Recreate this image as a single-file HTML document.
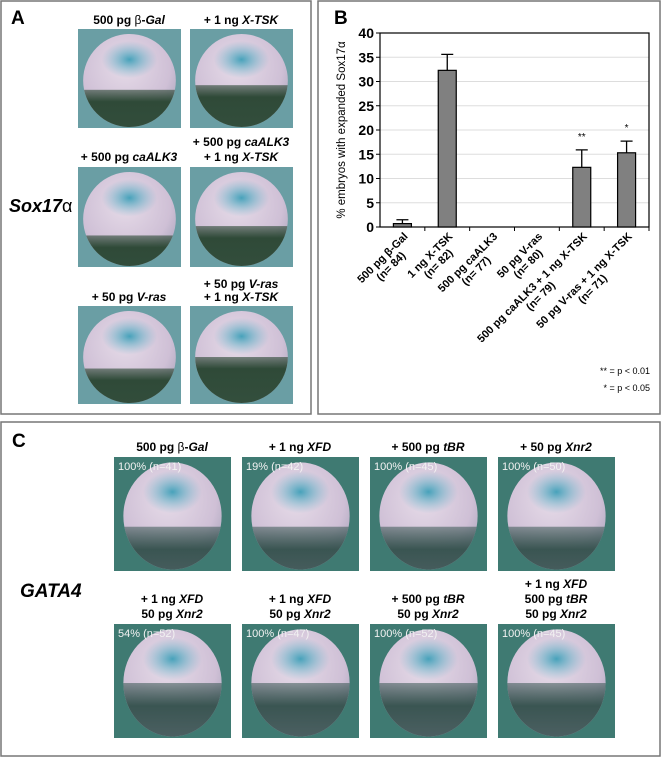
<!DOCTYPE html>
<html><head><meta charset="utf-8"><style>
body{margin:0;background:#fff;font-family:"Liberation Sans",sans-serif;}
svg text{font-family:"Liberation Sans","DejaVu Sans",sans-serif;}
</style></head><body>
<svg id="fig" width="661" height="758" viewBox="0 0 661 758" xmlns="http://www.w3.org/2000/svg">
<defs>
<radialGradient id="bodyA" cx="0.45" cy="0.35" r="0.7"><stop offset="0" stop-color="#e6dbe8"/><stop offset="0.7" stop-color="#cfc0d6"/><stop offset="1" stop-color="#a9a4bb"/></radialGradient>
<linearGradient id="yolk" x1="0" y1="0" x2="0" y2="1"><stop offset="0" stop-color="#2f4a38" stop-opacity="0.6"/><stop offset="0.12" stop-color="#2f4a38"/><stop offset="1" stop-color="#3a5544"/></linearGradient>
<radialGradient id="blue" cx="0.5" cy="0.5" r="0.5"><stop offset="0" stop-color="#3f9fb8" stop-opacity="0.95"/><stop offset="1" stop-color="#6fb6cc" stop-opacity="0"/></radialGradient>
<linearGradient id="yolkC" x1="0" y1="0" x2="0" y2="1"><stop offset="0" stop-color="#2f4f4a" stop-opacity="0.5"/><stop offset="0.2" stop-color="#3a5552"/><stop offset="1" stop-color="#6d7480"/></linearGradient>
</defs>
<rect x="1" y="1" width="310" height="413" fill="#fff" stroke="#777" stroke-width="1.5"/>
<rect x="318" y="1" width="342" height="413" fill="#fff" stroke="#777" stroke-width="1.5"/>
<rect x="1" y="422" width="659" height="334" fill="#fff" stroke="#777" stroke-width="1.5"/>
<text x="11" y="24" font-size="19" font-weight="bold">A</text>
<text x="334" y="24" font-size="19" font-weight="bold">B</text>
<text x="12" y="447" font-size="19" font-weight="bold">C</text>
<text x="9" y="212" font-size="18" font-weight="bold" font-style="italic">Sox17<tspan font-style="normal" font-weight="normal">α</tspan></text>
<text x="20" y="597" font-size="19" font-weight="bold" font-style="italic">GATA4</text>
<g id="photos"></g>
<g id="labels" font-size="12" font-weight="bold" text-anchor="middle"></g>
<g id="chart"></g>
<text x="650" y="374" font-size="9" text-anchor="end">** = p &lt; 0.01</text>
<text x="650" y="391" font-size="9" text-anchor="end">* = p &lt; 0.05</text>
</svg>
<script>
const categories=[["500 pg β-Gal","(n= 84)"],["1 ng X-TSK","(n= 82)"],["500 pg caALK3","(n= 77)"],["50 pg V-ras","(n= 80)"],["500 pg caALK3 + 1 ng X-TSK","(n= 79)"],["50 pg V-ras + 1 ng X-TSK","(n= 71)"]];
const values=[0.7,32.3,0,0,12.3,15.3];
const errTop=[1.5,35.6,0,0,15.9,17.7];
const stars=["","","","","**","*"];
const yTicks=[0,5,10,15,20,25,30,35,40];
const NS="http://www.w3.org/2000/svg";
function mk(tag,attrs,parent){const e=document.createElementNS(NS,tag);for(const k in attrs)e.setAttribute(k,attrs[k]);parent.appendChild(e);return e;}
const X0=380,X1=649,Y0=227,YT=33;
const bw=(X1-X0)/categories.length;
const y=v=>Y0-(v/40)*(Y0-YT);
const xc=i=>X0+(i+0.5)*bw;
const ch=document.getElementById('chart');
yTicks.forEach(t=>{
 if(t>0){const g=mk('line',{x1:X0,x2:X1,y1:y(t),y2:y(t),stroke:'#ddd','stroke-width':1},ch);
 
 }
 const tk=mk('line',{x1:X0-4,x2:X0,y1:y(t),y2:y(t),stroke:'#000'},ch);
 
 
 const tl=mk('text',{x:X0-6,y:y(t)+5,'font-size':14,'font-weight':'bold','text-anchor':'end'},ch);
 tl.textContent=t;
 
 
});
const fr=mk('rect',{x:X0,y:YT,width:X1-X0,height:Y0-YT,fill:'none',stroke:'#000','stroke-width':1.2},ch);


values.forEach((v,i)=>{
 const cx=xc(i);
 if(errTop[i]>0){
  const e=mk('path',{d:`M${cx},${y(v)}V${y(errTop[i])}M${cx-6},${y(errTop[i])}H${cx+6}`,stroke:'#000','stroke-width':1.3,fill:'none'},ch);
  
  
 }
 if(v>0){
  const b=mk('rect',{x:cx-9,y:y(v),width:18,height:Y0-y(v),fill:'#808080',stroke:'#000','stroke-width':1.2},ch);
  
  
 }
 if(stars[i]){
  const s=mk('text',{x:cx,y:y(errTop[i])-10,'font-size':10,'text-anchor':'middle'},ch);
  s.textContent=stars[i];
  
  
 }
 const tk=mk('line',{x1:X0+(i+1)*bw,x2:X0+(i+1)*bw,y1:Y0,y2:Y0+4,stroke:'#000'},ch);
 
 
 const ax=cx+6,ay=Y0+10;
 const g=mk('g',{transform:`rotate(-45 ${ax} ${ay})`},ch);
 
 
 const t1=mk('text',{x:ax,y:ay,'font-size':11,'font-weight':'bold','text-anchor':'end'},g);
 t1.textContent=categories[i][0];
 const len=t1.getComputedTextLength();
 const t2=mk('text',{x:ax-len/2,y:ay+12,'font-size':11,'font-weight':'bold','text-anchor':'middle'},g);
 t2.textContent=categories[i][1];
});
const yt=mk('text',{x:0,y:0,'font-size':11.5,'text-anchor':'middle',transform:'translate(345,130) rotate(-90)'},ch);
yt.textContent='% embryos with expanded Sox17α';



// embryo photos
const ph=document.getElementById('photos');
function embryo(x,w,yy,h,bg,opts){
 const g=mk('g',{},ph);
 
 
 mk('rect',{x:x,y:yy,width:w,height:h,fill:bg},g);
 const cx=x+w/2,cy=yy+h/2+2,rx=w*opts.rx,ry=h*0.47;
 const id='c'+Math.round(x)+'_'+Math.round(yy);
 const cp=mk('clipPath',{id:id},g);mk('ellipse',{cx:cx,cy:cy,rx:rx,ry:ry},cp);
 mk('ellipse',{cx:cx,cy:cy,rx:rx,ry:ry,fill:'url(#bodyA)'},g);
 const cg=mk('g',{'clip-path':`url(#${id})`},g);
 mk('rect',{x:x,y:cy+ry*opts.yolk,width:w,height:h,fill:opts.yc||'url(#yolk)'},cg);
 mk('ellipse',{cx:cx,cy:cy-ry*0.45,rx:rx*0.6,ry:ry*0.4,fill:'url(#blue)'},cg);
 if(opts.txt){const t=mk('text',{x:x+4,y:yy+13,'font-size':11,fill:'#f2f2f2','font-weight':'normal','text-anchor':'start'},g);t.textContent=opts.txt;}
}
const aX=[78,190],aY=[[29,128],[167,267],[306,404]];
const aYolk=[[0.2,0.1],[0.35,0.15],[0.25,0.0]];
aY.forEach((r,ri)=>aX.forEach((cx,ci)=>embryo(cx,103,r[0],r[1]-r[0],'#6a9ea4',{yolk:aYolk[ri][ci],rx:0.45})));
const cX=[114,242,370,498],cY=[457,624];
const cTxt=[["100% (n=41)","19% (n=42)","100% (n=45)","100% (n=50)"],["54% (n=52)","100% (n=47)","100% (n=52)","100% (n=45)"]];
cY.forEach((yy,ri)=>cX.forEach((xx,ci)=>embryo(xx,117,yy,114,'#3f7a72',{yolk:ri?0.0:0.2,yc:'url(#yolkC)',txt:cTxt[ri][ci],rx:0.42})));

// photo labels
const L=document.getElementById('labels');
function lab(x,yy,html){const t=mk('text',{x:x,y:yy},L);t.innerHTML=html;
 
 }
const I=s=>`<tspan font-style="italic">${s}</tspan>`;
lab(129,24,`500 pg <tspan font-weight="normal">β</tspan>-${I('Gal')}`);
lab(241,24,`+ 1 ng ${I('X-TSK')}`);
lab(129,161,`+ 500 pg ${I('caALK3')}`);
lab(241,146,`+ 500 pg ${I('caALK3')}`);lab(241,161,`+ 1 ng ${I('X-TSK')}`);
lab(129,301,`+ 50 pg ${I('V-ras')}`);
lab(241,288,`+ 50 pg ${I('V-ras')}`);lab(241,301,`+ 1 ng ${I('X-TSK')}`);
lab(172,451,`500 pg <tspan font-weight="normal">β</tspan>-${I('Gal')}`);
lab(300,451,`+ 1 ng ${I('XFD')}`);
lab(428,451,`+ 500 pg ${I('tBR')}`);
lab(556,451,`+ 50 pg ${I('Xnr2')}`);
lab(172,603,`+ 1 ng ${I('XFD')}`);lab(172,618,`50 pg ${I('Xnr2')}`);
lab(300,603,`+ 1 ng ${I('XFD')}`);lab(300,618,`50 pg ${I('Xnr2')}`);
lab(428,603,`+ 500 pg ${I('tBR')}`);lab(428,618,`50 pg ${I('Xnr2')}`);
lab(556,588,`+ 1 ng ${I('XFD')}`);lab(556,603,`500 pg ${I('tBR')}`);lab(556,618,`50 pg ${I('Xnr2')}`);
</script>
</body></html>
